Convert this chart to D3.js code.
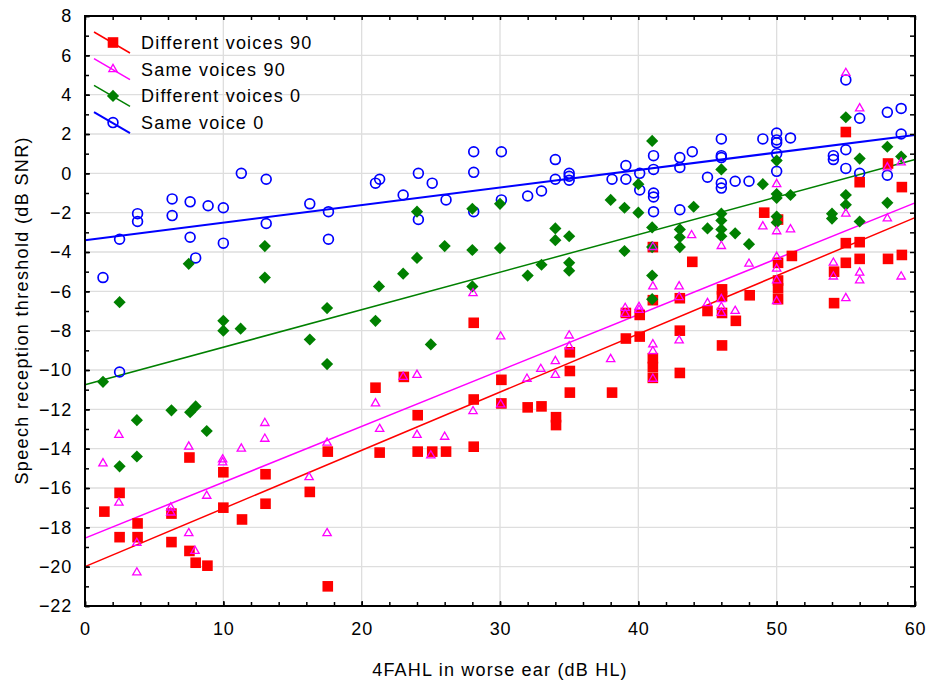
<!DOCTYPE html>
<html>
<head>
<meta charset="utf-8">
<script src="https://cdn.jsdelivr.net/npm/d3@7"></script>
<style>
  body { margin: 0; background: #fff; }
  svg { font-family: "Liberation Sans", Arial, sans-serif; }
</style>
</head>
<body>
<div class="scatter"></div>
<script>
// values: [4FAHL dB HL, SRT dB SNR]
const diffVoices90 = [[1.4,-17.2],[2.5,-16.25],[2.5,-18.5],[3.8,-17.8],[3.8,-18.5],[6.25,-17.3],[6.25,-18.75],[7.55,-14.45],[7.55,-19.2],[8.0,-19.8],[8.85,-19.95],[10.0,-15.2],[10.0,-17.0],[11.35,-17.6],[13.05,-15.3],[13.05,-16.8],[16.25,-16.2],[17.55,-14.15],[17.55,-21.0],[21.0,-10.9],[21.3,-14.2],[23.05,-10.35],[24.05,-12.3],[24.05,-14.15],[25.1,-14.15],[26.1,-14.15],[28.1,-7.6],[28.1,-11.5],[28.1,-13.9],[30.1,-10.5],[30.1,-11.7],[32.0,-11.9],[33.0,-11.85],[34.05,-12.4],[34.05,-12.8],[35.05,-9.1],[35.05,-10.05],[35.05,-11.15],[38.1,-11.15],[39.1,-7.1],[39.1,-8.4],[40.1,-7.2],[40.1,-8.3],[41.05,-3.75],[41.05,-6.45],[41.05,-9.4],[41.05,-9.85],[41.05,-10.4],[43.0,-6.35],[43.0,-8.0],[43.0,-10.15],[43.9,-4.5],[45.0,-7.0],[46.05,-5.9],[46.05,-6.25],[46.05,-7.1],[46.05,-8.75],[47.05,-7.5],[48.05,-6.2],[49.1,-2.0],[50.1,-2.35],[50.1,-4.55],[50.1,-5.45],[50.1,-5.85],[50.1,-6.4],[51.1,-4.2],[54.15,-5.0],[54.15,-6.6],[55.0,2.1],[55.0,-3.55],[55.0,-4.55],[56.0,-0.45],[56.0,-3.5],[56.0,-4.35],[58.05,0.5],[58.05,-4.35],[59.05,-0.7],[59.05,-4.15]];

const sameVoices90 = [[1.3,-14.75],[2.45,-13.3],[2.45,-16.75],[3.75,-18.8],[3.75,-20.3],[6.2,-17.0],[6.2,-17.25],[7.5,-13.9],[7.5,-18.3],[7.95,-19.2],[8.8,-16.4],[9.95,-14.55],[9.95,-14.7],[11.3,-14.0],[13.0,-12.7],[13.0,-13.5],[16.2,-15.45],[17.5,-13.7],[17.5,-18.3],[21.0,-11.7],[21.3,-13.0],[23.0,-10.35],[24.0,-10.25],[24.0,-13.3],[25.0,-14.35],[26.0,-13.4],[28.05,-6.1],[28.05,-12.1],[30.05,-8.3],[30.05,-11.75],[31.95,-10.45],[32.95,-9.95],[34.0,-9.55],[34.0,-10.25],[35.0,-8.25],[35.0,-8.8],[38.0,-9.45],[39.05,-6.85],[39.05,-7.15],[40.05,-6.8],[40.05,-6.95],[41.05,-3.75],[41.05,-5.75],[41.05,-8.7],[41.05,-9.05],[41.05,-10.45],[42.95,-5.75],[42.95,-6.3],[42.95,-8.5],[43.85,-3.15],[45.0,-6.6],[46.0,-3.7],[46.0,-6.4],[46.0,-6.8],[46.0,-7.1],[47.0,-7.0],[48.0,-4.6],[49.0,-2.7],[50.0,-0.55],[50.0,-2.95],[50.0,-4.25],[50.0,-4.85],[50.0,-5.45],[50.0,-6.5],[51.0,-2.85],[54.1,-4.55],[54.1,-5.25],[55.0,5.1],[55.0,-2.05],[55.0,-6.35],[56.0,3.3],[56.0,-5.05],[56.0,-5.45],[58.0,0.3],[58.0,-2.3],[59.0,0.55],[59.0,-5.25]];

const diffVoices0 = [[1.3,-10.6],[2.5,-6.55],[2.5,-14.9],[3.75,-12.55],[3.75,-14.4],[6.25,-12.05],[7.5,-4.6],[7.6,-12.15],[8.0,-11.85],[8.8,-13.1],[10.0,-7.5],[10.0,-8.0],[11.25,-7.9],[13.0,-3.7],[13.0,-5.3],[16.25,-8.45],[17.5,-6.85],[17.5,-9.7],[21.0,-7.5],[21.25,-5.75],[23.0,-5.1],[24.0,-1.95],[24.0,-4.3],[25.0,-8.7],[26.0,-3.7],[28.0,-1.8],[28.0,-3.9],[28.0,-5.75],[30.0,-1.55],[30.0,-3.8],[32.0,-5.2],[33.0,-4.65],[34.0,-2.8],[34.0,-3.4],[35.0,-3.2],[35.0,-4.55],[35.0,-4.95],[38.0,-1.35],[39.0,-1.75],[39.0,-3.95],[40.0,-0.55],[40.0,-2.0],[41.0,1.65],[41.0,-2.75],[41.0,-3.75],[41.0,-5.2],[41.0,-6.4],[43.0,-2.85],[43.0,-3.25],[43.0,-3.75],[44.0,-1.7],[45.0,-2.8],[46.0,0.2],[46.0,-2.05],[46.0,-2.4],[46.0,-2.85],[46.0,-3.2],[47.0,-3.05],[48.0,-3.6],[49.0,-0.55],[50.0,0.65],[50.0,-1.05],[50.0,-1.25],[50.0,-2.2],[50.0,-2.5],[51.0,-1.1],[54.0,-2.05],[54.0,-2.3],[55.0,2.85],[55.0,-1.1],[55.0,-1.6],[56.0,0.75],[56.0,-2.45],[58.0,1.35],[58.0,-1.5],[59.0,0.85]];

const sameVoice0 = [[1.3,-5.3],[2.5,-3.35],[2.5,-10.1],[3.8,-2.05],[3.8,-2.45],[6.3,-1.3],[6.3,-2.15],[7.6,-1.45],[7.6,-3.25],[8.0,-4.3],[8.9,-1.65],[10.0,-1.75],[10.0,-3.55],[11.3,0.0],[13.1,-0.3],[13.1,-2.55],[16.25,-1.55],[17.6,-1.95],[17.6,-3.35],[21.0,-0.5],[21.3,-0.3],[23.0,-1.1],[24.1,0.0],[24.1,-2.35],[25.1,-0.5],[26.1,-1.35],[28.1,1.1],[28.1,0.05],[28.1,-1.95],[30.1,1.1],[30.1,-1.35],[32.0,-1.15],[33.0,-0.9],[34.0,0.7],[34.0,-0.3],[35.0,0.0],[35.0,-0.15],[35.0,-0.35],[38.1,-0.3],[39.1,0.4],[39.1,-0.3],[40.1,0.0],[40.1,-0.85],[41.1,0.9],[41.1,0.2],[41.1,-1.0],[41.1,-1.2],[41.1,-1.95],[43.0,0.8],[43.0,0.3],[43.0,-1.85],[43.9,1.1],[45.0,-0.2],[46.0,1.75],[46.0,0.9],[46.0,0.8],[46.0,-0.5],[46.0,-0.75],[47.0,-0.4],[48.0,-0.4],[49.0,1.75],[50.0,2.05],[50.0,1.7],[50.0,1.55],[50.0,1.0],[50.0,0.1],[51.0,1.8],[54.1,0.9],[54.1,0.7],[55.0,4.75],[55.0,1.2],[55.0,0.25],[56.0,2.8],[56.0,0.0],[58.0,3.1],[58.0,-0.1],[59.0,3.3],[59.0,2.0]];

// regression lines, end points at x = 0 and x = 60
const fitDiff90 = [[0,-20.0],[60,-2.25]];
const fitSame90 = [[0,-18.55],[60,-1.5]];
const fitDiff0 = [[0,-10.75],[60,0.7]];
const fitSame0 = [[0,-3.4],[60,1.95]];

const legendLabels = ['Different voices 90', 'Same voices 90', 'Different voices 0', 'Same voice 0'];
const xTicks = [0, 10, 20, 30, 40, 50, 60];
const yTicks = [8, 6, 4, 2, 0, -2, -4, -6, -8, -10, -12, -14, -16, -18, -20, -22];

const width = 927;
const height = 682;
const margin = {left: 85, right: 12, top: 16, bottom: 76};

const svg = d3.select('.scatter').append('svg')
    .attr('width', width)
    .attr('height', height);

const x = d3.scaleLinear().domain([0, 60]).range([margin.left, width - margin.right]);
const y = d3.scaleLinear().domain([-22, 8]).range([height - margin.bottom, margin.top]);

// grid
const grid = svg.append('g').attr('stroke', '#dedede').attr('stroke-width', 1.3);
grid.selectAll('.gx')
    .data(xTicks.slice(1, -1))
    .enter().append('line')
    .attr('x1', d => x(d)).attr('x2', d => x(d))
    .attr('y1', y(-22)).attr('y2', y(8));
grid.selectAll('.gy')
    .data(yTicks.slice(1, -1))
    .enter().append('line')
    .attr('x1', x(0)).attr('x2', x(60))
    .attr('y1', d => y(d)).attr('y2', d => y(d));

const series = [
    {name: legendLabels[0], data: diffVoices90, fit: fitDiff90, color: '#ff0000', shape: 'square', lw: 1.5},
    {name: legendLabels[1], data: sameVoices90, fit: fitSame90, color: '#ff00ff', shape: 'triangle', lw: 1.5},
    {name: legendLabels[2], data: diffVoices0, fit: fitDiff0, color: '#008000', shape: 'diamond', lw: 1.5},
    {name: legendLabels[3], data: sameVoice0, fit: fitSame0, color: '#0000ff', shape: 'circle', lw: 2}
];

const line = d3.line().x(d => x(d[0])).y(d => y(d[1]));

series.forEach(s => {
    svg.append('path')
        .attr('d', line(s.fit))
        .attr('fill', 'none')
        .attr('stroke', s.color)
        .attr('stroke-width', s.lw);
});

function drawMarker(sel, s) {
    if (s.shape === 'square') {
        sel.append('rect')
            .attr('x', -5.3).attr('y', -5.3).attr('width', 10.6).attr('height', 10.6)
            .attr('fill', s.color);
    } else if (s.shape === 'diamond') {
        sel.append('path')
            .attr('d', d3.symbol(d3.symbolSquare, 74)())
            .attr('transform', 'rotate(45)')
            .attr('fill', s.color);
    } else if (s.shape === 'triangle') {
        sel.append('path')
            .attr('d', d3.symbol(d3.symbolTriangle, 30)())
            .attr('fill', 'none')
            .attr('stroke', s.color)
            .attr('stroke-width', 1.3);
    } else {
        sel.append('circle')
            .attr('r', 4.9)
            .attr('fill', 'none')
            .attr('stroke', s.color)
            .attr('stroke-width', 1.7);
    }
}

// draw order: blue, red, green, magenta
[series[3], series[0], series[2], series[1]].forEach(s => {
    svg.append('g').selectAll('g')
        .data(s.data)
        .enter().append('g')
        .attr('transform', d => `translate(${x(d[0])},${y(d[1])})`)
        .each(function () { drawMarker(d3.select(this), s); });
});

// frame and ticks (inward on all four sides)
const xMinor = d3.range(0, 61, 2);
const yMinor = d3.range(-22, 9, 1);
const axisStyle = g => {
    g.select('.domain').remove();
    g.selectAll('.tick line').attr('stroke', '#000').attr('stroke-width', 1.5);
    g.selectAll('text')
        .attr('fill', '#000')
        .style('font-size', '18px')
        .style('letter-spacing', '0.8px');
};

svg.append('g')
    .attr('transform', `translate(0,${y(-22)})`)
    .call(d3.axisBottom(x).tickValues(xTicks).tickSize(-5).tickPadding(16).tickFormat(d3.format('d')))
    .call(axisStyle);
svg.append('g')
    .attr('transform', `translate(0,${y(-22)})`)
    .call(d3.axisBottom(x).tickValues(xMinor).tickSize(-4).tickFormat(''))
    .call(axisStyle);
svg.append('g')
    .attr('transform', `translate(0,${y(8)})`)
    .call(d3.axisTop(x).tickValues(xMinor).tickSize(-4).tickFormat(''))
    .call(axisStyle);
svg.append('g')
    .attr('transform', `translate(${x(0)},0)`)
    .call(d3.axisLeft(y).tickValues(yTicks).tickSize(-5).tickPadding(13).tickFormat(d3.format('d')))
    .call(axisStyle);
svg.append('g')
    .attr('transform', `translate(${x(0)},0)`)
    .call(d3.axisLeft(y).tickValues(yMinor).tickSize(-4).tickFormat(''))
    .call(axisStyle);
svg.append('g')
    .attr('transform', `translate(${x(60)},0)`)
    .call(d3.axisRight(y).tickValues(yMinor).tickSize(-5).tickFormat(''))
    .call(axisStyle);

svg.append('rect')
    .attr('x', x(0)).attr('y', y(8))
    .attr('width', x(60) - x(0)).attr('height', y(-22) - y(8))
    .attr('fill', 'none')
    .attr('stroke', '#000')
    .attr('stroke-width', 2);

// axis titles
svg.append('text')
    .attr('x', (x(0) + x(60)) / 2)
    .attr('y', 676)
    .attr('text-anchor', 'middle')
    .style('font-size', '18px')
    .style('letter-spacing', '1.2px')
    .text('4FAHL in worse ear (dB HL)');

svg.append('text')
    .attr('transform', 'translate(28,311) rotate(-90)')
    .attr('text-anchor', 'middle')
    .attr('textLength', 347)
    .attr('lengthAdjust', 'spacing')
    .style('font-size', '18px')
    .text('Speech reception threshold (dB SNR)');

// legend
const legend = svg.append('g');
series.forEach((s, i) => {
    const cy = 42.5 + i * 26.7;
    const row = legend.append('g').attr('transform', `translate(0,${cy})`);
    row.append('line')
        .attr('x1', 94).attr('y1', -10.5)
        .attr('x2', 130).attr('y2', 10.5)
        .attr('stroke', s.color)
        .attr('stroke-width', s.lw);
    drawMarker(row.append('g').attr('transform', 'translate(113,0)'), s);
    row.append('text')
        .attr('x', 141)
        .attr('y', 6.5)
        .style('font-size', '18px')
        .style('letter-spacing', '1.2px')
        .text(s.name);
});
</script>
</body>
</html>
